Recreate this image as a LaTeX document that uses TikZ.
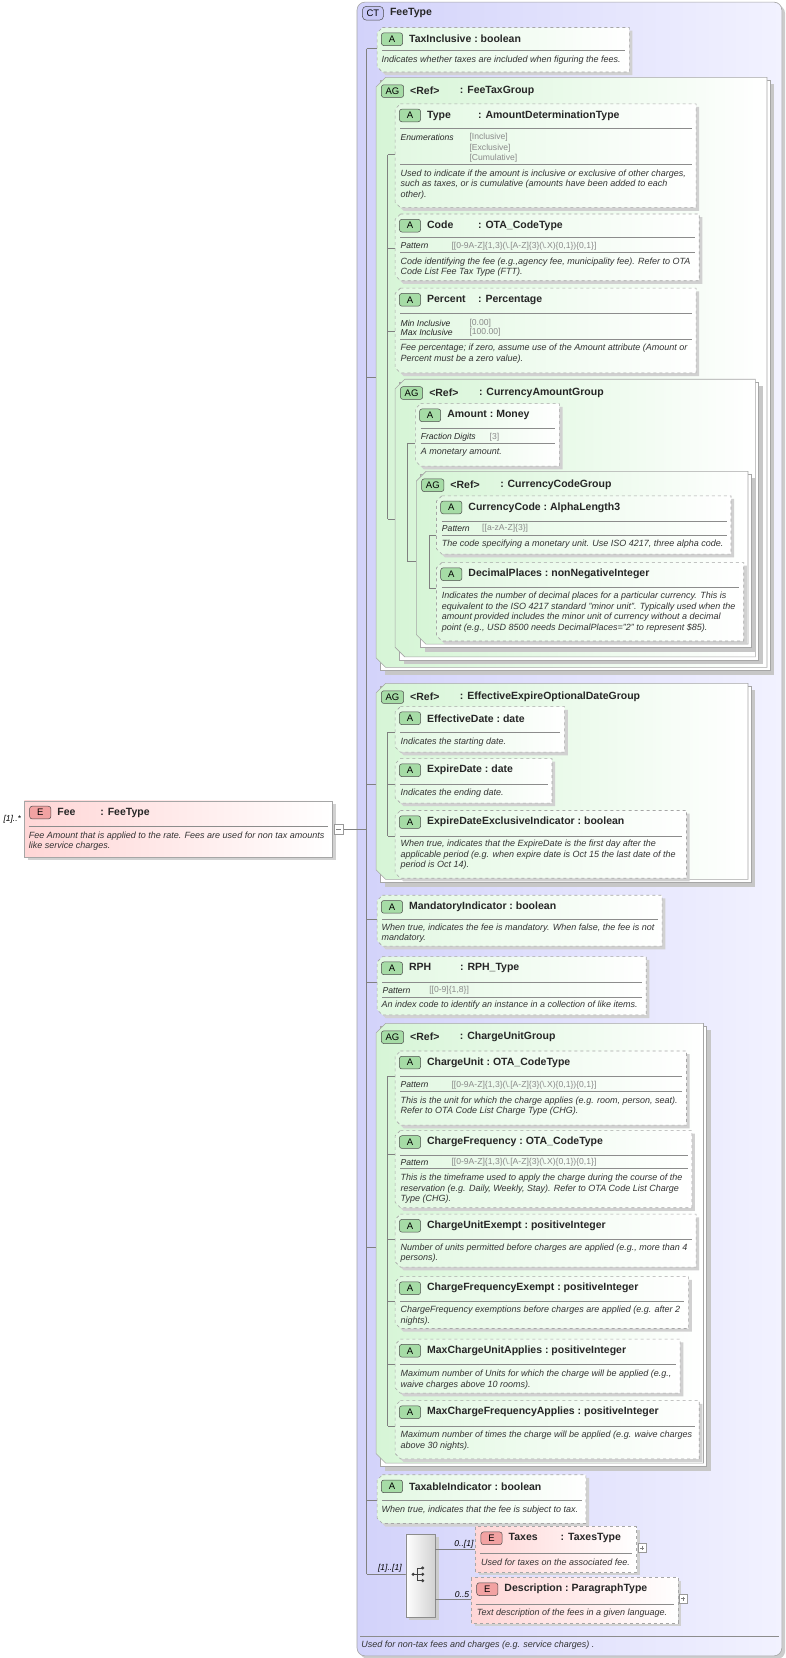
\documentclass[tikz,border=0pt]{standalone}
\usepackage{fontspec}
\setmainfont{Liberation Sans}
\definecolor{attrL}{HTML}{E2F8E2}
\definecolor{agL}{HTML}{D6F5D6}
\definecolor{elL}{HTML}{FFD6D6}
\definecolor{ctL}{HTML}{D2D2FA}
\definecolor{ctR}{HTML}{F2F2FF}
\definecolor{bA}{HTML}{A6DCA6}
\definecolor{bE}{HTML}{F2A2A2}
\definecolor{bCT}{HTML}{C8C8F6}
\definecolor{valc}{HTML}{8A8A8A}
\definecolor{linec}{HTML}{808080}
\tikzset{
 tf/.style={anchor=west,inner sep=0,font=\fontsize{10.5}{11}\selectfont\bfseries,text=black!85},
 df/.style={anchor=west,inner sep=0,font=\fontsize{9}{10}\selectfont\itshape,text=black!80},
 lf/.style={anchor=west,inner sep=0,font=\fontsize{8.6}{9}\selectfont\itshape,text=black!85},
 vf/.style={anchor=west,inner sep=0,font=\fontsize{8.6}{9}\selectfont,text=valc},
 mf/.style={inner sep=0,font=\fontsize{8.5}{9}\selectfont\itshape},
 conn/.style={draw=linec,line width=0.6pt},
 bdg/.style={draw=black!70,line width=0.5pt,rounded corners=2.5pt},
}
\newcommand\tcol[2]{\makebox[#1][l]{#2}}
\newcommand\chpath[5]{(#1+#5,#2) -- (#3,#2) -- (#3,#4) -- (#1+#5,#4) -- (#1,#4-#5) -- (#1,#2+#5) -- cycle}
\newcommand\badge[5]{%
 \draw[bdg,fill=#5] (#1,#2-6) rectangle (#1+#3,#2+6);
 \node[inner sep=0,font=\fontsize{9.5}{9.5}\selectfont] at (#1+#3/2,#2) {#4};}
\newcommand\attr[6]{%
 \fill[black!18] \chpath{#1+3}{#2+3}{#3+3}{#4+3}{5};
 \shade[left color=attrL,right color=white] \chpath{#1}{#2}{#3}{#4}{5};
 \draw[black!35,dashed,line width=0.6pt] \chpath{#1}{#2}{#3}{#4}{5};
 \draw[black!45,line width=0.5pt] (#1+5,#5) -- (#3-4,#5);
 \badge{#1+4}{#2+11}{20}{A}{bA}
 \node[tf] at (#1+30,#2+11) {#6};}
\newcommand\agrp[5]{%
 \fill[black!22] (#1+8,#2+6) rectangle (#3+7,#4+7);
 \draw[black!35,fill=white] (#1+4,#2+3) rectangle (#3+3,#4+3);
 \shade[left color=agL,right color=white] \chpath{#1}{#2}{#3}{#4}{9};
 \draw[black!35,line width=0.6pt] \chpath{#1}{#2}{#3}{#4}{9};
 \badge{#1+5}{#2+13}{21}{AG}{bA}
 \node[tf] at (#1+32,#2+13) {<Ref>};
 \node[tf] at (#1+79,#2+13) {: #5};}
\newcommand\elem[7]{%
 \fill[black!18] (#1+3,#2+3) rectangle (#3+3,#4+3);
 \shade[left color=elL,right color=white] (#1,#2) rectangle (#3,#4);
 \draw[black!35,#7,line width=0.6pt] (#1,#2) rectangle (#3,#4);
 \draw[black!45,line width=0.5pt] (#1+4,#5) -- (#3-4,#5);
 \badge{#1+5}{#2+11}{20}{E}{bE}
 \node[tf] at (#1+31,#2+11) {#6};}
\newcommand\dl[3]{\node[df] at (#1,#2) {#3};}
\newcommand\vl[3]{\node[vf] at (#1,#2) {#3};}
\newcommand\lbl[3]{\node[lf] at (#1,#2) {#3};}
\newcommand\plusbox[2]{\draw[black!40,fill=white] (#1,#2) rectangle (#1+8,#2+8);
 \draw[black!50] (#1+2,#2+4) -- (#1+6,#2+4);
 \draw[black!50] (#1+4,#2+2) -- (#1+4,#2+6);}
\newcommand\pat{[[0-9A-Z]\{1,3\}(\textbackslash.[A-Z]\{3\}(\textbackslash.X)\{0,1\})\{0,1\}]}
\begin{document}
\begin{tikzpicture}[x=1.0593pt,y=-1.0593pt]
\useasboundingbox (0,0) rectangle (741,1565);
\fill[white] (0,0) rectangle (741,1565);
% complex type
\fill[black!20,rounded corners=8pt] (340,5) rectangle (741,1566);
\shade[left color=ctL,right color=ctR,rounded corners=8pt] (337,2) rectangle (738,1563);
\draw[black!35,line width=0.6pt,rounded corners=8pt] (337,2) rectangle (738,1563);
\draw[bdg,fill=bCT,rounded corners=4pt] (342,6) rectangle (362,19);
\node[inner sep=0,font=\fontsize{9.5}{9.5}\selectfont] (ctb) at (352,12.5) {CT};
\node[tf] (ctt) at (368,12.5) {FeeType};
\draw[black!45] (340,1544) -- (735,1544);
\dl{341}{1553}{Used for non-tax fees and charges (e.g. service charges) .}
% spine
\draw[conn] (346,46) -- (346,1486);
\draw[conn] (346,46) -- (356,46);
\draw[conn] (346,356) -- (366,356);
\draw[conn] (346,740) -- (366,740);
\draw[conn] (346,868) -- (356,868);
\draw[conn] (346,927) -- (356,927);
\draw[conn] (346,1177) -- (366,1177);
\draw[conn] (346,1416) -- (356,1416);
\draw[conn] (346,1486) -- (383,1486);
\draw[conn] (324,783) -- (346,783);
% Fee
\elem{23}{756}{314}{809}{780}{\tcol{43pt}{Fee}: FeeType}{solid}
\node[mf,anchor=east] (feem) at (20,773) {[1]..*};
\dl{27}{789}{Fee Amount that is applied to the rate. Fees are used for non tax amounts}
\dl{27}{799}{like service charges.}
\draw[black!40,fill=white] (315,778) rectangle (324,787);
\draw[black!50] (317,782.5) -- (322,782.5);
% TaxInclusive
\attr{356}{26}{594}{68}{47}{TaxInclusive\ :\ boolean}
\dl{360}{57}{Indicates whether taxes are included when figuring the fees.}
% FeeTaxGroup
\agrp{355}{73}{724}{630}{FeeTaxGroup}
\draw[conn] (366,146) -- (366,490);
\foreach \yy in {146,234,313} {\draw[conn] (366,\yy) -- (373,\yy);}
\draw[conn] (366,490) -- (384,490);
\attr{373}{98}{657}{196}{121}{\tcol{51pt}{Type}: AmountDeterminationType}
\lbl{378}{130}{Enumerations}
\vl{443}{130}{[Inclusive]}\vl{443}{140}{[Exclusive]}\vl{443}{149}{[Cumulative]}
\draw[black!45] (378,155) -- (653,155);
\dl{378}{164}{Used to indicate if the amount is inclusive or exclusive of other charges,}
\dl{378}{174}{such as taxes, or is cumulative (amounts have been added to each}
\dl{378}{184}{other).}
\attr{373}{202}{660}{265}{224}{\tcol{51pt}{Code}: OTA\_CodeType}
\lbl{378}{232}{Pattern}
\vl{426}{232}{\pat}
\draw[black!45] (378,238) -- (656,238);
\dl{378}{247}{Code identifying the fee (e.g.,agency fee, municipality fee). Refer to OTA}
\dl{378}{257}{Code List Fee Tax Type (FTT).}
\attr{373}{272}{657}{352}{296}{\tcol{51pt}{Percent}: Percentage}
\lbl{378}{305}{Min Inclusive}
\lbl{378}{314}{Max Inclusive}
\vl{443}{305}{[0.00]}\vl{443}{314}{[100.00]}
\draw[black!45] (378,320) -- (653,320);
\dl{378}{329}{Fee percentage; if zero, assume use of the Amount attribute (Amount or}
\dl{378}{339}{Percent must be a zero value).}
% CurrencyAmountGroup
\agrp{373}{358}{713}{620}{CurrencyAmountGroup}
\draw[conn] (384,418) -- (384,530);
\draw[conn] (384,418) -- (392,418);
\draw[conn] (384,530) -- (405,530);
\attr{392}{381}{528}{440}{404}{Amount\ :\ Money}
\lbl{397}{413}{Fraction Digits}
\vl{462}{413}{[3]}
\draw[black!45] (397,418) -- (524,418);
\dl{397}{427}{A monetary amount.}
% CurrencyCodeGroup
\agrp{393}{445}{706}{608}{CurrencyCodeGroup}
\draw[conn] (405,505) -- (405,555);
\draw[conn] (405,505) -- (412,505);
\draw[conn] (405,555) -- (412,555);
\attr{412}{468}{690}{523}{492}{CurrencyCode\ :\ AlphaLength3}
\lbl{417}{499}{Pattern}
\vl{455}{499}{[[a-zA-Z]\{3\}]}
\draw[black!45] (417,505) -- (686,505);
\dl{417}{514}{The code specifying a monetary unit. Use ISO 4217, three alpha code.}
\attr{412}{531}{702}{605}{554}{DecimalPlaces\ :\ nonNegativeInteger}
\dl{417}{563}{Indicates the number of decimal places for a particular currency. This is}
\dl{417}{573}{equivalent to the ISO 4217 standard "minor unit". Typically used when the}
\dl{417}{583}{amount provided includes the minor unit of currency without a decimal}
\dl{417}{593}{point (e.g., USD 8500 needs DecimalPlaces="2" to represent \$85).}
% EffectiveExpireOptionalDateGroup
\agrp{355}{645}{706}{830}{EffectiveExpireOptionalDateGroup}
\draw[conn] (366,691) -- (366,789);
\foreach \yy in {691,740,789} {\draw[conn] (366,\yy) -- (373,\yy);}
\attr{373}{667}{533}{710}{691}{EffectiveDate\ :\ date}
\dl{378}{701}{Indicates the starting date.}
\attr{373}{716}{521}{758}{740}{ExpireDate\ :\ date}
\dl{378}{749}{Indicates the ending date.}
\attr{373}{765}{648}{829}{789}{ExpireDateExclusiveIndicator\ :\ boolean}
\dl{378}{797}{When true, indicates that the ExpireDate is the first day after the}
\dl{378}{807}{applicable period (e.g. when expire date is Oct 15  the last date of the}
\dl{378}{817}{period is Oct 14).}
% MandatoryIndicator
\attr{356}{845}{625}{893}{868}{MandatoryIndicator\ :\ boolean}
\dl{360}{876}{When true, indicates the fee is mandatory. When false, the fee is not}
\dl{360}{886}{mandatory.}
% RPH
\attr{356}{903}{610}{958}{927}{\tcol{51pt}{RPH}: RPH\_Type}
\lbl{361}{935}{Pattern}
\vl{405}{935}{[[0-9]\{1,8\}]}
\draw[black!45] (361,941) -- (606,941);
\dl{360}{949}{An index code to identify an instance in a collection of like items.}
% ChargeUnitGroup
\agrp{355}{966}{664}{1381}{ChargeUnitGroup}
\draw[conn] (366,1016) -- (366,1346);
\foreach \yy in {1016,1090,1170,1228,1288,1346} {\draw[conn] (366,\yy) -- (373,\yy);}
\attr{373}{992}{648}{1062}{1016}{ChargeUnit\ :\ OTA\_CodeType}
\lbl{378}{1024}{Pattern}
\vl{426}{1024}{\pat}
\draw[black!45] (378,1030) -- (644,1030);
\dl{378}{1039}{This is the unit for which the charge applies (e.g. room, person, seat).}
\dl{378}{1049}{Refer to OTA Code List Charge Type (CHG).}
\attr{373}{1067}{653}{1140}{1090}{ChargeFrequency\ :\ OTA\_CodeType}
\lbl{378}{1097}{Pattern}
\vl{426}{1097}{\pat}
\draw[black!45] (378,1103) -- (649,1103);
\dl{378}{1112}{This is the timeframe used to apply the charge during the course of the}
\dl{378}{1122}{reservation (e.g. Daily, Weekly, Stay). Refer to OTA Code List Charge}
\dl{378}{1132}{Type (CHG).}
\attr{373}{1146}{657}{1196}{1170}{ChargeUnitExempt\ :\ positiveInteger}
\dl{378}{1178}{Number of units permitted before charges are applied (e.g., more than 4}
\dl{378}{1188}{persons).}
\attr{373}{1205}{650}{1254}{1228}{ChargeFrequencyExempt\ :\ positiveInteger}
\dl{378}{1237}{ChargeFrequency exemptions before charges are applied (e.g. after 2}
\dl{378}{1247}{nights).}
\attr{373}{1264}{642}{1315}{1288}{MaxChargeUnitApplies\ :\ positiveInteger}
\dl{378}{1297}{Maximum number of Units for which the charge will be applied (e.g.,}
\dl{378}{1307}{waive charges above 10 rooms).}
\attr{373}{1322}{660}{1377}{1346}{MaxChargeFrequencyApplies\ :\ positiveInteger}
\dl{378}{1355}{Maximum number of times the charge will be applied (e.g. waive charges}
\dl{378}{1365}{above 30 nights).}
% TaxableIndicator
\attr{356}{1392}{553}{1438}{1416}{TaxableIndicator\ :\ boolean}
\dl{360}{1425}{When true, indicates that the fee is subject to tax.}
% compositor
\fill[black!20] (386,1451) rectangle (414,1529);
\shade[left color=white,right color=black!18] (383,1448) rectangle (411,1526);
\draw[black!45] (383,1448) rectangle (411,1526);
\node[mf] (seqm) at (368,1480) {[1]..[1]};
\fill[black!75] (390,1486) circle (1.6);
\draw[black!75,line width=0.7pt] (390,1486) -- (394,1486) (394,1480) -- (394,1492)
  (394,1480) -- (398,1480) (394,1486) -- (398,1486) (394,1492) -- (398,1492);
\fill[black!75] (399,1480) circle (1.6) (399,1486) circle (1.6) (399,1492) circle (1.6);
\draw[conn] (411,1462) -- (449,1462);
\draw[conn] (411,1510) -- (445,1510);
\node[mf,anchor=base east] (tm) at (447,1460) {0..[1]};
\node[mf,anchor=base east] (dm) at (443,1508) {0..5};
\elem{449}{1441}{601}{1484}{1466}{\tcol{52pt}{Taxes}: TaxesType}{dashed}
\dl{454}{1475}{Used for taxes on the associated fee.}
\plusbox{602}{1457}
\elem{445}{1489}{640}{1532}{1514}{Description\ :\ ParagraphType}{dashed}
\dl{450}{1523}{Text description of the fees  in a given language.}
\plusbox{641}{1505}
\end{tikzpicture}
\end{document}
